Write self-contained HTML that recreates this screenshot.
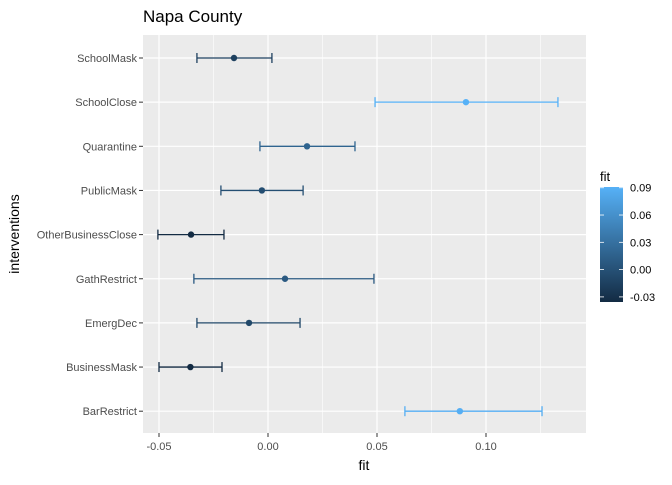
<!DOCTYPE html>
<html><head><meta charset="utf-8"><style>
body{margin:0;background:#fff;font-family:"Liberation Sans",sans-serif;}
</style></head><body>
<svg id="chart" width="672" height="480" xmlns="http://www.w3.org/2000/svg" font-family="Liberation Sans, sans-serif">
<rect width="672" height="480" fill="#fff"/>
<text x="143" y="22" font-size="17" fill="#000">Napa County</text>
<rect x="143" y="35" width="443" height="398" fill="#EBEBEB"/>
<g id="grid"></g><g id="marks"></g><g id="axes"></g>
<text x="364" y="470" font-size="14" text-anchor="middle">fit</text>
<text transform="translate(19,234) rotate(-90)" font-size="14" text-anchor="middle">interventions</text>
<g>
<text x="600" y="181" font-size="13">fit</text>
<defs><linearGradient id="cg" x1="0" y1="1" x2="0" y2="0"><stop offset="0" stop-color="#132B43"/><stop offset="1" stop-color="#56B1F7"/></linearGradient></defs>
<rect x="600" y="187" width="23" height="115" fill="url(#cg)"/>
<g id="legend-ticks"></g>
</g>
</svg>
<script>
const categories=["SchoolMask","SchoolClose","Quarantine","PublicMask","OtherBusinessClose","GathRestrict","EmergDec","BusinessMask","BarRestrict"];
const fitValues=[-0.0156,0.0908,0.0179,-0.0028,-0.0353,0.0078,-0.0087,-0.0356,0.0880];
const lowValues=[-0.0326,0.0491,-0.0037,-0.0216,-0.0505,-0.0340,-0.0326,-0.0500,0.0628];
const highValues=[0.0018,0.1330,0.0399,0.0161,-0.0202,0.0486,0.0147,-0.0211,0.1257];
const xTicks=[-0.05,0,0.05,0.10];
const xTickLabels=["-0.05","0.00","0.05","0.10"];
const legendTicks=[0.09,0.06,0.03,0.00,-0.03];
const legendTickLabels=["0.09","0.06","0.03","0.00","-0.03"];
const NS="http://www.w3.org/2000/svg";
const x=v=>268+v*2180;
const y=i=>58+i*44.15;
const cmin=-0.0356,cmax=0.0908;
const cy=v=>302-(v-cmin)/(cmax-cmin)*115;
function col(v){const t=Math.max(0,Math.min(1,(v-cmin)/(cmax-cmin)));const a=[0x13,0x2B,0x43],b=[0x56,0xB1,0xF7];return "rgb("+a.map((c,k)=>Math.round(c+(b[k]-c)*t)).join(",")+")";}
function mk(tag,attrs,parent){const e=document.createElementNS(NS,tag);for(const k in attrs)e.setAttribute(k,attrs[k]);parent.appendChild(e);return e;}
const grid=document.getElementById('grid'),marks=document.getElementById('marks'),axes=document.getElementById('axes'),lt=document.getElementById('legend-ticks');
for(let i=0;i<xTicks.length-1;i++){const m=(xTicks[i]+xTicks[i+1])/2;const g=mk('line',{x1:x(m),x2:x(m),y1:35,y2:433,stroke:'#fff','stroke-width':0.6},grid);}
{const m=xTicks[xTicks.length-1]+0.025;const g=mk('line',{x1:x(m),x2:x(m),y1:35,y2:433,stroke:'#fff','stroke-width':0.6},grid);}
xTicks.forEach((t,i)=>{const g=mk('line',{x1:x(t),x2:x(t),y1:35,y2:433,stroke:'#fff','stroke-width':1.2},grid);
const tk=mk('line',{x1:x(t),x2:x(t),y1:433,y2:437,stroke:'#333'},axes);
const l=mk('text',{x:x(t),y:450,'font-size':11,fill:'#4D4D4D','text-anchor':'middle'},axes);l.textContent=xTickLabels[i];});
categories.forEach((c,i)=>{const g=mk('line',{x1:143,x2:586,y1:y(i),y2:y(i),stroke:'#fff','stroke-width':1.2},grid);
const tk=mk('line',{x1:139,x2:143,y1:y(i),y2:y(i),stroke:'#333'},axes);
const l=mk('text',{x:137,y:y(i)+4,'font-size':11,fill:'#4D4D4D','text-anchor':'end'},axes);l.textContent=c;
const cl=col(fitValues[i]);
const eb=mk('g',{stroke:cl,'stroke-width':1.3},marks);
mk('line',{x1:x(lowValues[i]),x2:x(highValues[i]),y1:y(i),y2:y(i)},eb);
mk('line',{x1:x(lowValues[i]),x2:x(lowValues[i]),y1:y(i)-5,y2:y(i)+5},eb);
mk('line',{x1:x(highValues[i]),x2:x(highValues[i]),y1:y(i)-5,y2:y(i)+5},eb);
const p=mk('circle',{cx:x(fitValues[i]),cy:y(i),r:3.2,fill:cl},marks);});
legendTicks.forEach((t,i)=>{const a=mk('line',{x1:600,x2:604,y1:cy(t),y2:cy(t),stroke:'#fff','stroke-width':0.8},lt);
const b=mk('line',{x1:619,x2:623,y1:cy(t),y2:cy(t),stroke:'#fff','stroke-width':0.8},lt);
const l=mk('text',{x:630,y:cy(t)+4,'font-size':11,fill:'#000'},lt);l.textContent=legendTickLabels[i];});
</script>
</body></html>
